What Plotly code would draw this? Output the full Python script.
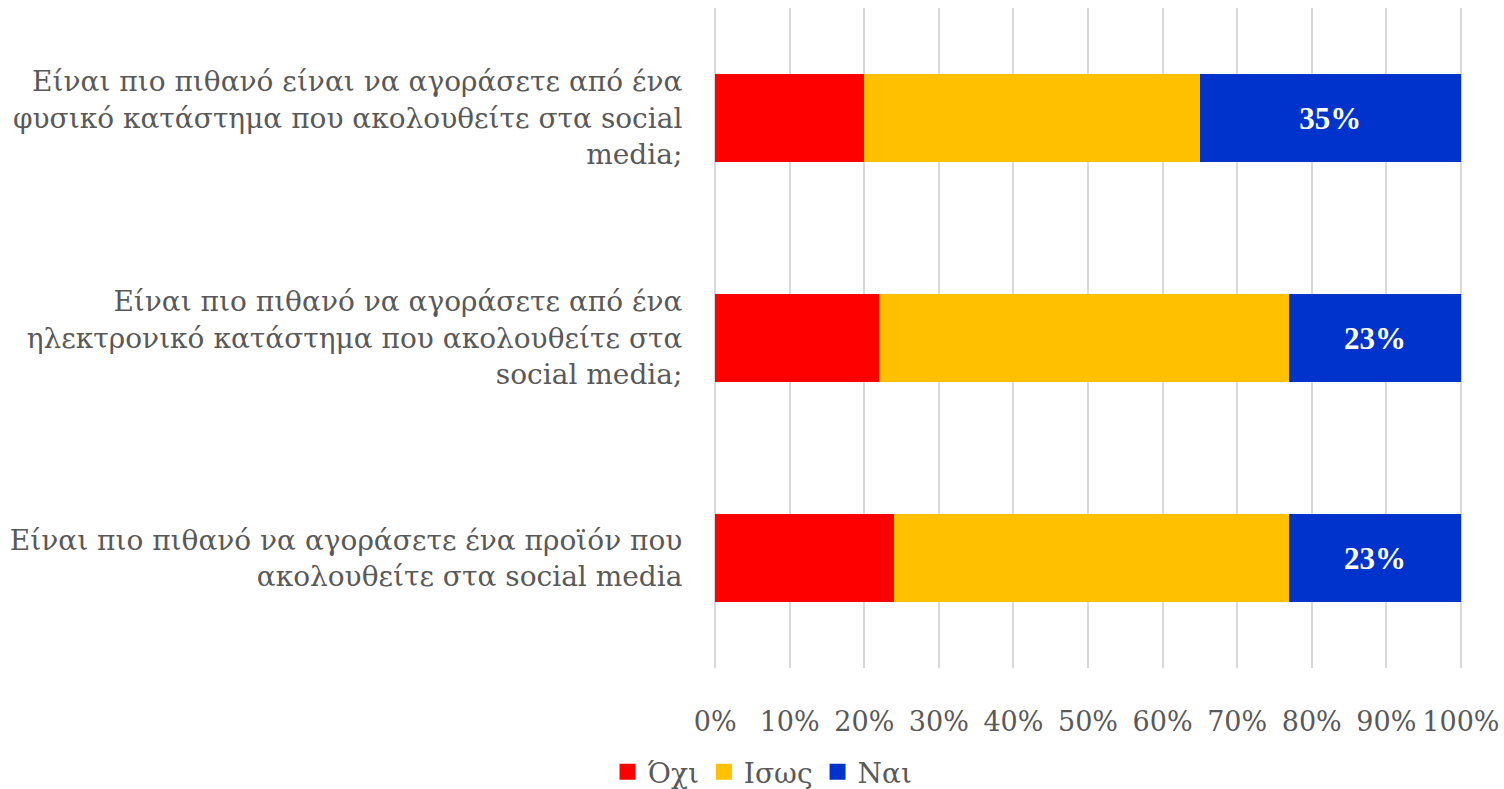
import plotly.graph_objects as go

# Survey questions (top to bottom) and response shares in percent
questions = [
    "Είναι πιο πιθανό είναι να αγοράσετε από ένα<br>φυσικό κατάστημα που ακολουθείτε στα social<br>media;",
    "Είναι πιο πιθανό να αγοράσετε από ένα<br>ηλεκτρονικό κατάστημα που ακολουθείτε στα<br>social media;",
    "Είναι πιο πιθανό να αγοράσετε ένα προϊόν που<br>ακολουθείτε στα social media",
]
series_names = ["Όχι", "Ισως", "Ναι"]
series_colors = ["#FF0000", "#FFC000", "#0033CC"]
ochi = [20, 22, 24]
isos = [45, 55, 53]
nai = [35, 23, 23]

tick_vals = [0, 10, 20, 30, 40, 50, 60, 70, 80, 90, 100]
tick_text = [f"{v}%" for v in tick_vals]

FONT = "DejaVu Serif"
LABEL_FONT = "Liberation Serif"
GREY = "#595959"
GRID = "#D9D9D9"

fig = go.Figure()
for name, vals, color in zip(series_names, [ochi, isos, nai], series_colors):
    bar = go.Bar(y=questions, x=vals, name=name, orientation="h",
                 marker=dict(color=color, line=dict(width=0)),
                 showlegend=False)
    if name == "Ναι":
        bar.update(text=[f"{v}%" for v in vals], textposition="inside",
                   insidetextanchor="middle",
                   textfont=dict(family=LABEL_FONT, size=31, color="white",
                                 weight="bold"))
    fig.add_trace(bar)

# Legend entries with larger square swatches
for name, color in zip(series_names, series_colors):
    fig.add_trace(go.Scatter(x=[None], y=[None], mode="markers", name=name,
                             marker=dict(symbol="square", size=18, color=color)))

# Gridline at the right edge of the axis (100%)
fig.add_vline(x=tick_vals[-1], line=dict(color=GRID, width=2), layer="below")

fig.update_layout(
    barmode="stack",
    bargap=0.6,
    width=1504, height=789,
    margin=dict(l=714, r=42, t=8, b=121, autoexpand=False),
    paper_bgcolor="white", plot_bgcolor="white",
    font=dict(family=FONT, size=28, color=GREY),
    legend=dict(orientation="h", x=0.507, xanchor="center", xref="container",
                y=(789 - 772) / 789, yanchor="middle", yref="container",
                font=dict(family=FONT, size=28, color=GREY),
                traceorder="normal", itemwidth=30),
    uniformtext=dict(mode="show", minsize=10),
)
fig.update_xaxes(range=[-0.15, 100.15], tickvals=tick_vals, ticktext=tick_text,
                 showgrid=True, gridcolor=GRID, gridwidth=2,
                 zeroline=True, zerolinecolor=GRID, zerolinewidth=2,
                 showline=False,
                 ticks="outside", ticklen=30, tickcolor="rgba(0,0,0,0)",
                 tickfont=dict(family=FONT, size=27, color=GREY))
fig.update_yaxes(autorange="reversed", showgrid=False, zeroline=False,
                 ticks="outside", ticklen=25, tickcolor="rgba(0,0,0,0)",
                 tickfont=dict(family=FONT, size=28, color=GREY))

fig.write_html("out.html")
